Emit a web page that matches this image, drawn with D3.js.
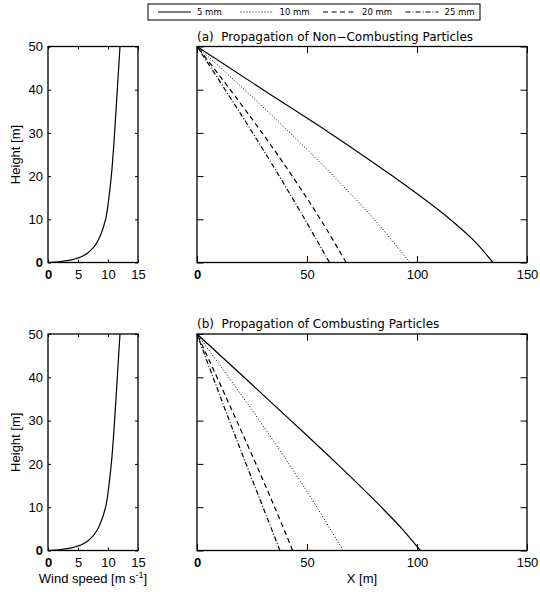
<!DOCTYPE html>
<html>
<head>
<meta charset="utf-8">
<script src="https://cdn.jsdelivr.net/npm/d3@7"></script>
<style>
  html, body { margin: 0; padding: 0; background: #fff; }
  svg { display: block; }
  .tick text { font-family: "Liberation Sans", Arial, sans-serif; font-size: 13px; fill: #000; }
  .lbl { font-family: "Liberation Sans", Arial, sans-serif; font-size: 13px; fill: #000; }
  .ttl { font-family: "DejaVu Sans", sans-serif; font-size: 12px; fill: #000; white-space: pre; }
  .leg { font-family: "DejaVu Sans", sans-serif; font-size: 8.5px; fill: #000; }
</style>
</head>
<body>
<svg id="chart" width="540" height="592"></svg>
<script>
// Wind speed profile with height
const windHeight = [0, 0.1, 0.3, 0.6, 1.0, 1.5, 2.2, 3.2, 4.5, 6.5, 10, 15, 20, 30, 40, 50];
const windSpeed  = [0, 1.2, 2.6, 3.9, 4.9, 5.8, 6.6, 7.4, 8.1, 8.8, 9.6, 10.15, 10.55, 11.1, 11.55, 12.0];

// Particle diameters (legend)
const sizes = ["5 mm", "10 mm", "20 mm", "25 mm"];
const dashes = [null, "1,2", "5,3.5", "5,2,1,2"];

// Trajectory heights [m]
const hStep = [50, 40, 30, 20, 10, 0];
const hFine = [50, 40, 30, 20, 10, 5, 0];

// (a) Non-combusting particles: horizontal distance X [m] at each height
const ncX5  = [0, 30, 60.3, 88.9, 115, 126, 134.5];
const ncX10 = [0, 21.6, 42.3, 62.1, 80.5, 96.7];
const ncX20 = [0, 15.1, 29.6, 43.3, 56.1, 67.8];
const ncX25 = [0, 12.8, 25.3, 37.4, 49.0, 60.2];

// (b) Combusting particles
const cX5  = [0, 21.4, 42.7, 63.7, 83.8, 93.2, 101.5];
const cX10 = [0, 14.4, 28.4, 41.8, 54.5, 66.4];
const cX20 = [0, 9.1, 18.0, 26.8, 35.3, 43.5];
const cX25 = [0, 7.3, 14.7, 22.3, 30.0, 37.7];

// Tick values
const heightTicks = [0, 10, 20, 30, 40, 50];
const windTicks = [0, 5, 10, 15];
const distTicks = [0, 50, 100, 150];

const svg = d3.select("#chart");

const zip = (xs, ys) => xs.map((v, i) => [v, ys[i]]);

const rows = [
  { top: 46.5, bottom: 262.5, title: "(a)  Propagation of Non\u2212Combusting Particles",
    series: [zip(ncX5, hFine), zip(ncX10, hStep), zip(ncX20, hStep), zip(ncX25, hStep)], xlabels: false },
  { top: 334, bottom: 550.5, title: "(b)  Propagation of Combusting Particles",
    series: [zip(cX5, hFine), zip(cX10, hStep), zip(cX20, hStep), zip(cX25, hStep)], xlabels: true }
];

const L = { left: 48, right: 138 };
const R = { left: 197, right: 527 };

function frameAxes(g, x, y, xt, yt, tick, showYLabels) {
  const [x0, x1] = x.range();
  const [y0, y1] = y.range();
  g.append("g").attr("transform", `translate(0,${y0})`)
    .call(d3.axisBottom(x).tickValues(xt).tickSize(-tick).tickPadding(7));
  g.append("g").attr("transform", `translate(${x0},0)`)
    .call(d3.axisLeft(y).tickValues(yt).tickSize(-tick).tickPadding(5)
      .tickFormat(showYLabels ? (d => d) : ""));
  g.append("g").attr("transform", `translate(0,${y1})`)
    .call(d3.axisTop(x).tickValues(xt).tickSize(-tick).tickFormat(""));
  g.append("g").attr("transform", `translate(${x1},0)`)
    .call(d3.axisRight(y).tickValues(yt).tickSize(-tick).tickFormat(""));
  g.selectAll(".domain").remove();
  g.selectAll(".tick line").attr("stroke", "#000").attr("stroke-width", 1);
  g.selectAll(".tick text").filter(d => d === 0).attr("font-weight", "bold");
  g.append("rect")
    .attr("x", x0).attr("y", y1)
    .attr("width", x1 - x0).attr("height", y0 - y1)
    .attr("fill", "none").attr("stroke", "#000").attr("stroke-width", 1.3);
}

rows.forEach(row => {
  // Wind profile panel
  const xw = d3.scaleLinear().domain([0, 15]).range([L.left, L.right]);
  const yh = d3.scaleLinear().domain([0, 50]).range([row.bottom, row.top]);
  const gl = svg.append("g");
  frameAxes(gl, xw, yh, windTicks, heightTicks, 3, true);
  gl.append("path")
    .datum(zip(windSpeed, windHeight))
    .attr("fill", "none").attr("stroke", "#000").attr("stroke-width", 1.2)
    .attr("d", d3.line().x(d => xw(d[0])).y(d => yh(d[1])).curve(d3.curveMonotoneY));
  gl.append("text").attr("class", "lbl")
    .attr("transform", `translate(20,${(row.top + row.bottom) / 2}) rotate(-90)`)
    .attr("text-anchor", "middle").text("Height [m]");

  // Trajectory panel
  const xd = d3.scaleLinear().domain([0, 150]).range([R.left, R.right]);
  const gr = svg.append("g");
  frameAxes(gr, xd, yh, distTicks, heightTicks, 6.5, false);
  const line = d3.line().x(d => xd(d[0])).y(d => yh(d[1])).curve(d3.curveMonotoneY);
  row.series.forEach((pts, i) => {
    gr.append("path")
      .datum(pts.slice().reverse())
      .attr("fill", "none").attr("stroke", "#000")
      .attr("stroke-width", i === 1 ? 1 : 1.2)
      .attr("stroke-dasharray", dashes[i])
      .attr("d", line);
  });
  gr.append("text").attr("class", "ttl")
    .attr("x", R.left).attr("y", row.top - 6).text(row.title);

  if (row.xlabels) {
    const wl = svg.append("text").attr("class", "lbl")
      .attr("x", (L.left + L.right) / 2).attr("y", row.bottom + 32)
      .attr("text-anchor", "middle");
    wl.append("tspan").text("Wind speed [m s");
    wl.append("tspan").attr("dy", -5).attr("font-size", "9px").text("-1");
    wl.append("tspan").attr("dy", 5).text("]");
    svg.append("text").attr("class", "lbl")
      .attr("x", (R.left + R.right) / 2).attr("y", row.bottom + 32)
      .attr("text-anchor", "middle").text("X [m]");
  }
});

// Legend
const leg = svg.append("g");
leg.append("rect").attr("x", 148).attr("y", 4).attr("width", 332).attr("height", 16)
  .attr("fill", "#fff").attr("stroke", "#000").attr("stroke-width", 1);
const legX = d3.scaleBand().domain(sizes).range([150, 480]);
sizes.forEach((s, i) => {
  const x0 = legX(s);
  leg.append("line").attr("x1", x0 + 8).attr("x2", x0 + 41).attr("y1", 12).attr("y2", 12)
    .attr("stroke", "#000").attr("stroke-width", 1).attr("stroke-dasharray", dashes[i]);
  leg.append("text").attr("class", "leg").attr("x", x0 + 47).attr("y", 15).text(s);
});
</script>
</body>
</html>
